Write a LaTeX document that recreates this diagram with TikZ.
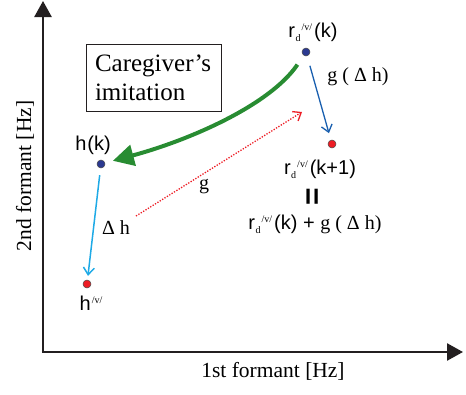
\documentclass[tikz,border=0pt]{standalone}
\usepackage{fontspec}
\setmainfont{Liberation Serif}
\newfontfamily\serf{Liberation Serif}
\newfontfamily\sansf{Liberation Sans}
\usetikzlibrary{arrows.meta}
\definecolor{axisc}{RGB}{35,31,32}
\definecolor{dotblue}{RGB}{43,57,144}
\definecolor{dotred}{RGB}{237,28,36}
\definecolor{arrblue}{RGB}{25,95,175}
\definecolor{arrcyan}{RGB}{30,170,230}
\definecolor{arrgreen}{RGB}{40,140,50}
\newcommand\mysmall{\serf\fontsize{10}{10}\selectfont}
\newcommand\rdv{{\sansf r}\kern0.5pt\raisebox{-4pt}{\mysmall d}\kern1pt\raisebox{7pt}{\mysmall /v/}\kern2pt}
\begin{document}
\begin{tikzpicture}[x=1pt,y=-1pt,
  dotb/.style={circle, fill=dotblue, draw=black!70, line width=0.5pt, minimum size=8pt, inner sep=0pt},
  dotr/.style={circle, fill=dotred, draw=black!70, line width=0.5pt, minimum size=8pt, inner sep=0pt},
  lbl/.style={inner sep=0pt, font=\serf\fontsize{20}{24}\selectfont},
  axisline/.style={draw=axisc, line width=2.5pt, -{Triangle[length=16pt,width=17pt]}},
  thinarrow/.style={line width=1.3pt, -{Straight Barb[length=7pt,width=11pt]}}
]
\useasboundingbox (0,0) rectangle (466,394);
% axes
\coordinate (origin) at (43,352);
\coordinate (ytop) at (43,1);
\coordinate (xend) at (463,352);
\draw[axisline] (origin) -- (ytop);
\draw[axisline] ([xshift=-1.25pt]origin) -- (xend);
\node[lbl, font=\serf\fontsize{21.5}{24}\selectfont, rotate=90] (ylab) at (25,176) {2nd formant [Hz]};
\node[lbl, font=\serf\fontsize{21.5}{24}\selectfont] (xlab) at (273,371) {1st formant [Hz]};
% dots
\node[dotb] (rk) at (306,52) {};
\node[dotr] (rk1) at (332,144) {};
\node[dotb] (hk) at (101,164) {};
\node[dotr] (hv) at (87,284) {};
% labels
\node[lbl] (rkl) at (313,32) {\rdv{\sansf(k)}};
\node[lbl] (rk1l) at (320,169) {\rdv{\sansf(k+1)}};
\node[lbl, rotate=90, font=\sansf\bfseries\fontsize{30}{32}\selectfont] (eq) at (315,197) {=};
\node[lbl] (suml) at (315,224) {\rdv{\sansf(k) + }g ( Δ h)};
\node[lbl] (gdh) at (358,77) {g ( Δ h)};
\node[lbl] (hkl) at (93,145) {\sansf h\kern1pt(k)};
\node[lbl] (hvl) at (91,303) {{\sansf h}\kern1pt\raisebox{7pt}{\mysmall /v/}};
\node[lbl] (dh) at (116,228) {Δ h};
\node[lbl] (gl) at (204,187) {g};
% box
\node[draw=axisc, line width=0.8pt, minimum width=135pt, minimum height=67pt, text width=117pt, inner xsep=9pt, align=left, font=\serf\fontsize{25}{29}\selectfont] (box) at (153.5,77.5) {Caregiver’s\\imitation};
% arrows
\draw[thinarrow, draw=arrblue, shorten <=10pt, shorten >=7pt] (rk) -- (rk1);
\draw[thinarrow, draw=arrcyan, line width=1.5pt, shorten <=7pt, shorten >=4pt] (hk) -- (hv);
\coordinate (ds) at (136,216);
\coordinate (de) at (302,112);
\draw[thinarrow, draw=dotred, line width=1.3pt, dash pattern=on 1.3pt off 1.5pt] (ds) -- (de);
\draw[draw=arrgreen, line width=4pt, -{Triangle[length=21pt,width=21pt]}, shorten <=11pt, shorten >=8pt]
  (rk) .. controls (270,105) and (190,140) .. (hk);
\end{tikzpicture}
\end{document}
